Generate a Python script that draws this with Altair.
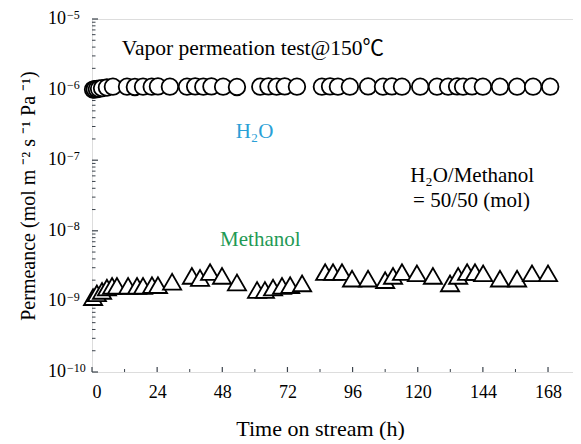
import altair as alt
import pandas as pd

# ---- data ----
h2o_time = [0.4, 1.0, 1.8, 2.6, 3.7, 5.5, 7.7, 12.9, 15.8, 18.8, 22.0, 24.3, 28.7,
            35.0, 38.0, 41.0, 44.0, 48.3, 53.4, 62.0, 65.0, 68.0, 71.0, 75.5,
            84.7, 87.7, 90.6, 95.0, 101.7, 107.2, 110.5, 114.2, 120.9, 127.1,
            131.2, 134.5, 136.7, 140.0, 144.0, 150.3, 156.6, 162.5, 168.8]
h2o_perm = [1.00e-6, 1.01e-6, 1.02e-6, 1.03e-6, 1.05e-6, 1.07e-6, 1.10e-6, 1.10e-6, 1.09e-6,
            1.10e-6, 1.10e-6, 1.11e-6, 1.10e-6, 1.10e-6, 1.11e-6, 1.10e-6, 1.11e-6,
            1.10e-6, 1.09e-6, 1.10e-6, 1.11e-6, 1.10e-6, 1.11e-6, 1.10e-6, 1.10e-6,
            1.11e-6, 1.10e-6, 1.10e-6, 1.11e-6, 1.10e-6, 1.11e-6, 1.10e-6, 1.10e-6,
            1.10e-6, 1.10e-6, 1.11e-6, 1.10e-6, 1.11e-6, 1.10e-6, 1.10e-6, 1.10e-6,
            1.10e-6, 1.10e-6]
meoh_time = [0.4, 1.8, 3.7, 5.5, 7.4, 9.2, 13.3, 16.6, 18.8, 22.1, 24.3, 29.5,
             36.8, 39.8, 43.5, 47.9, 53.4, 60.8, 63.7, 66.7, 70.0, 73.0, 77.4,
             85.9, 88.8, 92.1, 95.8, 101.7, 108.0, 110.9, 114.2, 119.7, 125.6,
             131.9, 134.9, 138.2, 141.1, 144.1, 150.3, 156.6, 162.1, 168.0]
meoh_perm = [1.15e-9, 1.30e-9, 1.41e-9, 1.57e-9, 1.66e-9, 1.66e-9, 1.66e-9, 1.66e-9,
             1.66e-9, 1.70e-9, 1.70e-9, 1.90e-9, 2.30e-9, 2.15e-9, 2.60e-9, 2.30e-9,
             1.85e-9, 1.45e-9, 1.45e-9, 1.57e-9, 1.66e-9, 1.70e-9, 1.80e-9, 2.60e-9,
             2.60e-9, 2.60e-9, 2.10e-9, 2.10e-9, 2.00e-9, 2.30e-9, 2.60e-9, 2.50e-9,
             2.30e-9, 1.80e-9, 2.30e-9, 2.60e-9, 2.60e-9, 2.50e-9, 2.10e-9, 2.10e-9,
             2.50e-9, 2.50e-9]

x_ticks = [0, 24, 48, 72, 96, 120, 144, 168]
x_minor = [12, 36, 60, 84, 108, 132, 156]
y_ticks = [1e-10, 1e-9, 1e-8, 1e-7, 1e-6, 1e-5]
y_tick_base = ["10", "10", "10", "10", "10", "10"]
y_tick_exp = ["−10", "−9", "−8", "−7", "−6", "−5"]
y_minor = [m * d for d in [1e-10, 1e-9, 1e-8, 1e-7, 1e-6] for m in range(2, 10)]

FONT = "Liberation Serif, Noto Sans CJK SC"
AXC = "#3b434c"
W, H = 481, 353

xscale = alt.Scale(domain=[0, 177.2], nice=False, zero=False)
yscale = alt.Scale(type="log", domain=[1e-10, 1e-5], nice=False)

h2o = pd.DataFrame({"t": h2o_time, "p": h2o_perm})
meoh = pd.DataFrame({"t": meoh_time, "p": meoh_perm})
ylab = pd.DataFrame({"v": y_ticks, "b": y_tick_base, "e": y_tick_exp})

circles = alt.Chart(h2o).mark_point(
    shape="circle", fill="white", stroke="black", strokeWidth=1.8,
    size=275, opacity=1, fillOpacity=1
).encode(
    x=alt.X("t:Q", scale=xscale,
            axis=alt.Axis(values=x_ticks, title="Time on stream (h)", grid=False,
                          ticks=False, tickSize=0, domain=False, labelFont=FONT,
                          labelFontSize=18, labelColor="black", labelPadding=11,
                          titleFont=FONT, titleFontSize=22, titleFontWeight="normal",
                          titleColor="black", titleX=228, titleY=56,
                          titleBaseline="middle", titleAlign="center")),
    y=alt.Y("p:Q", scale=yscale,
            axis=alt.Axis(values=y_ticks, labels=False,
                          title="Permeance (mol m ⁻² s ⁻¹ Pa ⁻¹)", grid=False,
                          ticks=False, tickSize=0, domain=False,
                          titleFont=FONT, titleFontSize=20, titleFontWeight="normal",
                          titleColor="black", titleX=-64, titleY=H / 2,
                          titleAngle=270, titleBaseline="middle", titleAlign="center")),
)

triangles = alt.Chart(meoh).mark_point(
    shape="triangle-up", fill="white", stroke="black", strokeWidth=1.8,
    size=330, opacity=1, fillOpacity=1
).encode(x=alt.X("t:Q", scale=xscale), y=alt.Y("p:Q", scale=yscale))

ymaj = alt.Chart(pd.DataFrame({"v": y_ticks})).mark_rule(color=AXC, strokeWidth=1.2).encode(
    y=alt.Y("v:Q", scale=yscale), x=alt.value(0), x2=alt.value(6))
ymin = alt.Chart(pd.DataFrame({"v": y_minor})).mark_rule(color=AXC, strokeWidth=1).encode(
    y=alt.Y("v:Q", scale=yscale), x=alt.value(0), x2=alt.value(3.5))
xmaj = alt.Chart(pd.DataFrame({"t": x_ticks})).mark_rule(color=AXC, strokeWidth=1.2).encode(
    x=alt.X("t:Q", scale=xscale), y=alt.value(H), y2=alt.value(H - 5))
xmin = alt.Chart(pd.DataFrame({"t": x_minor})).mark_rule(color=AXC, strokeWidth=1).encode(
    x=alt.X("t:Q", scale=xscale), y=alt.value(H), y2=alt.value(H - 3))

ylab_base = alt.Chart(ylab).mark_text(
    font=FONT, fontSize=18, color="black", align="right", baseline="middle"
).encode(y=alt.Y("v:Q", scale=yscale), x=alt.value(-26), text="b:N")
ylab_exp = alt.Chart(ylab).mark_text(
    font=FONT, fontSize=12, color="black", align="left", baseline="middle", dy=-4.5
).encode(y=alt.Y("v:Q", scale=yscale), x=alt.value(-25), text="e:N")


def note(text, t, p, color="black", size=21, dx=0, dy=0):
    return alt.Chart(pd.DataFrame({"a": [0]})).mark_text(
        text=text, font=FONT, fontSize=size, color=color, align="left",
        baseline="alphabetic", dx=dx, dy=dy
    ).encode(x=alt.datum(t), y=alt.datum(p))


BLUE = "#2a9fd6"
GREEN = "#1f9a55"
notes = [
    note("Vapor permeation test@150℃", 11.0, 3.13e-6, size=21.5),
    note("H", 53.0, 2.09e-7, color=BLUE),
    note("2", 53.0, 2.09e-7, color=BLUE, size=13, dx=15.5, dy=4),
    note("O", 53.0, 2.09e-7, color=BLUE, dx=22.5),
    note("Methanol", 47.2, 6.0e-9, color=GREEN),
    note("H", 117.2, 4.89e-8),
    note("2", 117.2, 4.89e-8, size=13, dx=15.5, dy=4),
    note("O/Methanol", 117.2, 4.89e-8, dx=22.5),
    note("= 50/50 (mol)", 118.3, 2.18e-8),
]

chart = alt.layer(ymin, ymaj, xmin, xmaj, circles, triangles, ylab_base, ylab_exp,
                  *notes).properties(
    width=W, height=H,
    autosize=alt.AutoSizeParams(type="none"),
    padding={"left": 84, "top": 11, "right": 0, "bottom": 68},
).configure_view(stroke=AXC, strokeWidth=1.6).configure(background="white")

chart.save("out.html", embed_options={"renderer": "svg", "actions": False})
